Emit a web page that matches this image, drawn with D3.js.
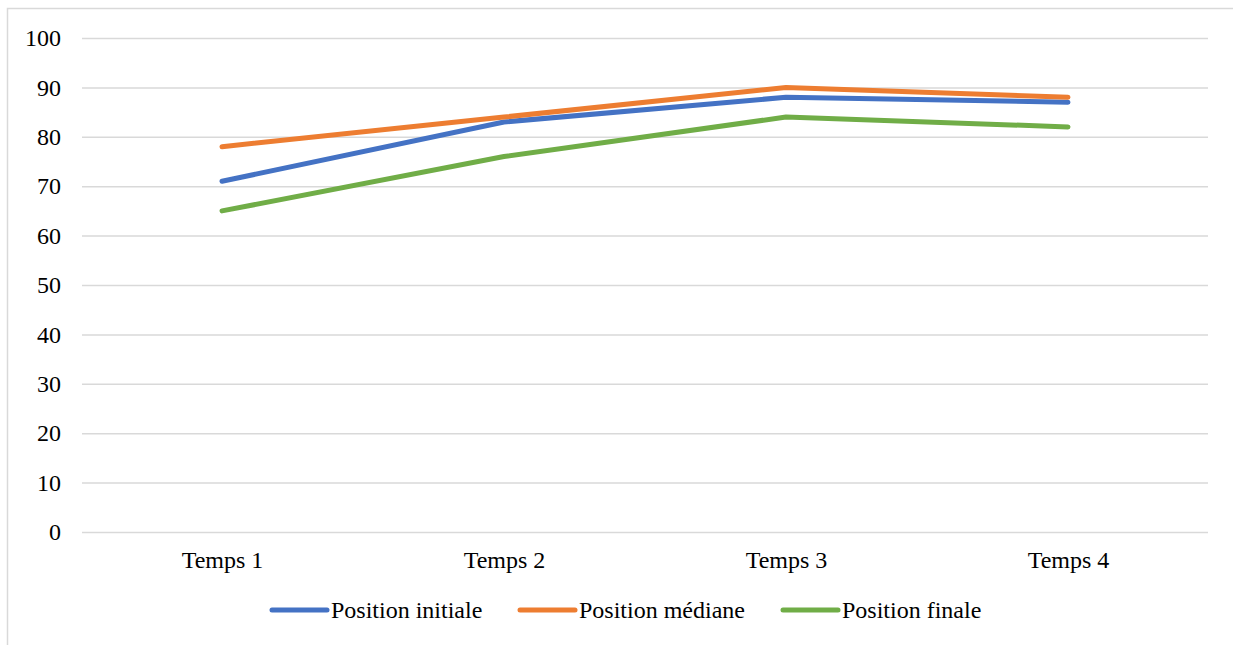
<!DOCTYPE html>
<html>
<head>
<meta charset="utf-8">
<script src="https://cdn.jsdelivr.net/npm/d3@7"></script>
<style>
  body { margin: 0; background: #fff; }
  svg text { font-family: "Liberation Serif", "Times New Roman", serif; fill: #000; }
</style>
</head>
<body>
<div id="chart"></div>
<script>
var categories = ["Temps 1", "Temps 2", "Temps 3", "Temps 4"];
var seriesNames = ["Position initiale", "Position médiane", "Position finale"];
var initiale = [71, 83, 88, 87];
var mediane = [78, 84, 90, 88];
var finale = [65, 76, 84, 82];
var yTicks = [0, 10, 20, 30, 40, 50, 60, 70, 80, 90, 100];
var colors = ["#4472C4", "#ED7D31", "#70AD47"];

var W = 1233, H = 645;
var svg = d3.select("#chart").append("svg")
    .attr("width", W).attr("height", H);

// frame (cut off on the right and bottom)
svg.append("rect")
    .attr("x", 7.5).attr("y", 8.5)
    .attr("width", W + 20).attr("height", H + 20)
    .attr("fill", "none")
    .attr("stroke", "#d9d9d9").attr("stroke-width", 1.5);

var x = d3.scalePoint().domain(categories).range([81, 1209]).padding(0.5);
var y = d3.scaleLinear().domain([0, 100]).range([532, 38]);

// grid + y labels
var yAxis = svg.append("g")
    .attr("transform", "translate(82,0)")
    .call(d3.axisLeft(y).tickValues(yTicks).tickSize(-(1208 - 82)).tickPadding(21));
yAxis.attr("font-family", null).attr("font-size", null);
yAxis.select(".domain").remove();
yAxis.selectAll(".tick line").attr("stroke", "#d9d9d9").attr("stroke-width", 1.5);
yAxis.selectAll(".tick text").style("font-size", "24px");

// x labels
var xAxis = svg.append("g")
    .attr("transform", "translate(0,532)")
    .call(d3.axisBottom(x).tickSize(0).tickPadding(19));
xAxis.attr("font-family", null).attr("font-size", null);
xAxis.select(".domain").remove();
xAxis.selectAll(".tick text").style("font-size", "24px");

var series = [initiale, mediane, finale];
var line = d3.line()
    .x(function (d, i) { return x(categories[i]); })
    .y(function (d) { return y(d); });

series.forEach(function (s, k) {
    svg.append("path")
        .datum(s)
        .attr("d", line)
        .attr("fill", "none")
        .attr("stroke", colors[k])
        .attr("stroke-width", 5)
        .attr("stroke-linecap", "round")
        .attr("stroke-linejoin", "round");
});

// legend
var legendX = [272, 520, 783];
var leg = svg.append("g");
seriesNames.forEach(function (name, k) {
    var g = leg.append("g").attr("transform", "translate(" + legendX[k] + ",610)");
    g.append("line")
        .attr("x1", 0).attr("x2", 55).attr("y1", 0).attr("y2", 0)
        .attr("stroke", colors[k]).attr("stroke-width", 5)
        .attr("stroke-linecap", "round");
    g.append("text")
        .attr("x", 59).attr("y", 8)
        .style("font-size", "24px")
        .text(name);
});
</script>
</body>
</html>
